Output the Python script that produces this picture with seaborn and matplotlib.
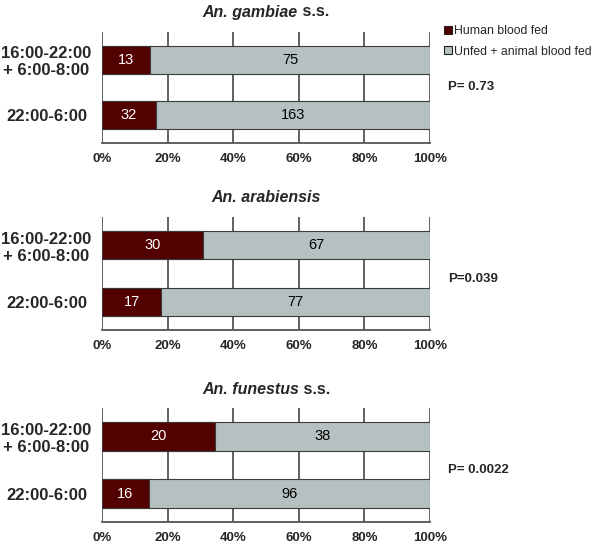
import pandas as pd
import numpy as np
import seaborn as sns
import matplotlib.pyplot as plt
from matplotlib.patches import Patch

sns.set_style("white")
plt.rcParams['font.family'] = ['Liberation Sans', 'DejaVu Sans']

# data
species = ["An. gambiae", "An. arabiensis", "An. funestus"]
species_suffix = [" s.s.", "", " s.s."]
periods = ["16:00-22:00\n+ 6:00-8:00", "22:00-6:00"]
human_fed = [[13, 32], [30, 17], [20, 16]]
other_fed = [[75, 163], [67, 77], [38, 96]]
p_values = ["P= 0.73", "P=0.039", "P= 0.0022"]
xticks = [0, 20, 40, 60, 80, 100]
xticklabels = ["0%", "20%", "40%", "60%", "80%", "100%"]

col_human = "#530000"
col_other = "#b5c1c1"
edge = "#3a3a3a"
grid_col = "#555555"

W, H = 600, 545
fig = plt.figure(figsize=(6, 5.45), dpi=100)

# axes boxes in pixels (top, bottom)
boxes = [(32, 143), (217, 330), (408, 522)]
title_y = [12, 198, 390]
p_y = [87, 279, 470]
left, right = 102, 430

for i in range(3):
    top, bot = boxes[i]
    ax = fig.add_axes([left / W, 1 - bot / H, (right - left) / W, (bot - top) / H])

    df = pd.DataFrame({
        "period": periods,
        "human": human_fed[i],
        "other": other_fed[i],
    })
    df["total"] = df["human"] + df["other"]
    df["human_pct"] = df["human"] / df["total"] * 100
    df["all_pct"] = 100.0

    # gridlines behind bars
    for xt in xticks:
        ax.axvline(xt, color=grid_col, lw=1.3, zorder=0)

    sns.barplot(data=df, x="all_pct", y="period", orient="h", color=col_other,
                width=0.5, edgecolor=edge, linewidth=0.8, saturation=1, ax=ax, zorder=2)
    sns.barplot(data=df, x="human_pct", y="period", orient="h", color=col_human,
                width=0.5, edgecolor=edge, linewidth=0.8, saturation=1, ax=ax, zorder=3)

    # count labels
    ax.bar_label(ax.containers[1], labels=[str(v) for v in df["human"]],
                 label_type="center", color="white", fontsize=10.5, zorder=4)
    for j, row in df.iterrows():
        ax.text((row["human_pct"] + 100) / 2, j, str(row["other"]), ha="center",
                va="center", fontsize=10.5, color="black", zorder=4)

    ax.set_xlim(0, 100)
    ax.set_ylim(1.5, -0.5)
    ax.set_xticks(xticks)
    ax.set_xticklabels(xticklabels, fontsize=9.5, fontweight="bold")
    ax.set_xlabel("")
    ax.set_ylabel("")
    ax.tick_params(axis="x", length=0, pad=7)
    ax.set_yticks([0, 1])
    ax.set_yticklabels(periods, fontsize=12, fontweight="bold", ha="center",
                       multialignment="center", linespacing=1.15)
    ax.tick_params(axis="y", length=0, pad=40)
    ax.set_yticks([-0.5, 0.5, 1.5], minor=True)
    ax.tick_params(axis="y", which="minor", direction="in", length=3, width=1, color=grid_col)
    for s in ["top", "right", "left"]:
        ax.spines[s].set_visible(False)
    ax.spines["bottom"].set_color(grid_col)
    ax.spines["bottom"].set_linewidth(1.3)

    # title: italic species name + plain suffix, centred together
    cx = (left + right) / 2 / W
    ty = 1 - title_y[i] / H
    t1 = fig.text(cx, ty, species[i], fontsize=11.5, fontweight="bold",
                  fontstyle="italic", ha="right", va="center")
    t2 = fig.text(cx, ty, species_suffix[i], fontsize=11.5, fontweight="bold",
                  ha="left", va="center")
    fig.canvas.draw()
    r = fig.canvas.get_renderer()
    w1 = t1.get_window_extent(r).width / W
    w2 = t2.get_window_extent(r).width / W if species_suffix[i] else 0
    shift = (w1 - w2) / 2
    t1.set_x(cx + shift)
    t2.set_x(cx + shift)

    fig.text(448 / W, 1 - p_y[i] / H, p_values[i], fontsize=9.5, fontweight="bold",
             ha="left", va="center")

handles = [Patch(facecolor=col_human, edgecolor="#222222", lw=0.8),
           Patch(facecolor=col_other, edgecolor="#222222", lw=0.8)]
fig.legend(handles, ["Human blood fed", "Unfed + animal blood fed"],
           loc="upper left", bbox_to_anchor=(444 / W, 1 - 25 / H), frameon=False,
           fontsize=8.8, handlelength=0.65, handleheight=0.65, handletextpad=0.2,
           labelspacing=0.7, borderpad=0, borderaxespad=0)

fig.savefig("out.png", dpi=100)
